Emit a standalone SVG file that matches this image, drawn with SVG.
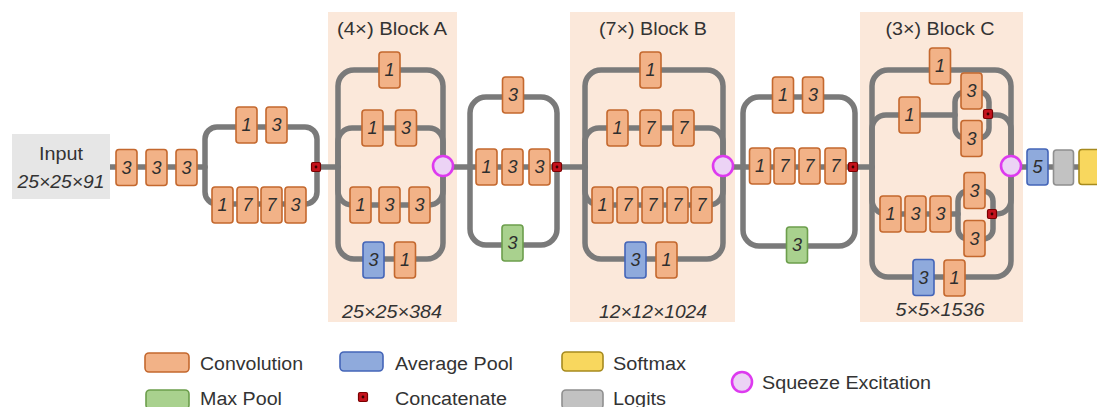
<svg xmlns="http://www.w3.org/2000/svg" width="1097" height="407" viewBox="0 0 1097 407">
  <style>
    .bg { fill: #fbe8da; }
    .wire { fill: none; stroke: #7a7a7a; stroke-width: 5.5; stroke-linecap: round; }
    .conv { fill: #f2b287; stroke: #c4682e; stroke-width: 1.6; }
    .mpool { fill: #a9d18e; stroke: #6c9e4c; stroke-width: 1.6; }
    .apool { fill: #8faadc; stroke: #4465b8; stroke-width: 1.6; }
    .soft { fill: #f8d75e; stroke: #a68a1e; stroke-width: 1.6; }
    .logit { fill: #c2c2c2; stroke: #8f8f8f; stroke-width: 1.6; }
    .cat { fill: #c4121c; stroke: #7a0000; stroke-width: 1.2; }
    .catdot { fill: #3a0000; }
    .se { fill: #ecd3f5; stroke: #dd3aef; stroke-width: 2.6; }
    .digit { font-family: "Liberation Sans", Arial, sans-serif; font-style: italic; font-size: 18px; fill: #2e2e2e; text-anchor: middle; }
    .lbl { font-family: "Liberation Sans", Arial, sans-serif; font-size: 18px; fill: #333; }
    .dim { font-family: "Liberation Sans", Arial, sans-serif; font-style: italic; font-size: 18px; fill: #333; text-anchor: middle; }
    .title { font-family: "Liberation Sans", Arial, sans-serif; font-size: 18px; fill: #333; text-anchor: middle; }
  </style>
  <defs>
    <rect id="box" x="-10.5" y="-18" width="21" height="36" rx="3"/>
    <g id="catmark">
      <rect class="cat" x="-4.5" y="-4.5" width="9" height="9" rx="1.5"/>
      <circle class="catdot" r="1.4"/>
    </g>
  </defs>

  <rect width="1097" height="407" fill="#ffffff"/>

  <!-- block backgrounds -->
  <g id="block-a-bg"><rect class="bg" x="328" y="12" width="129" height="310"/></g>
  <g id="block-b-bg"><rect class="bg" x="570" y="12" width="165" height="310"/></g>
  <g id="block-c-bg"><rect class="bg" x="860" y="12" width="163" height="310"/></g>

  <!-- connectors -->
  <g id="connectors">
    <path class="wire" d="M110,167 H205"/>
    <rect class="wire" x="205" y="127" width="112" height="77" rx="12"/>
    <path class="wire" d="M317,167 H338"/>
    <rect class="wire" x="338" y="70" width="105" height="189" rx="16"/>
    <rect class="wire" x="338" y="128" width="105" height="77" rx="14"/>
    <path class="wire" d="M443,167 H470"/>
    <rect class="wire" x="470" y="97" width="87" height="148" rx="16"/>
    <path class="wire" d="M470,167 H557"/>
    <path class="wire" d="M557,167 H585"/>
    <rect class="wire" x="585" y="70" width="138" height="189" rx="16"/>
    <rect class="wire" x="585" y="128" width="138" height="77" rx="14"/>
    <path class="wire" d="M723,167 H743"/>
    <rect class="wire" x="743" y="97" width="112" height="149" rx="16"/>
    <path class="wire" d="M743,167 H855"/>
    <path class="wire" d="M855,167 H872"/>
    <rect class="wire" x="872" y="70" width="139" height="207" rx="16"/>
    <path class="wire" d="M955,115 H886 A14,14 0 0 0 872,129 V200 A14,14 0 0 0 886,214 H958"/>
    <path class="wire" d="M988,115 H997 A14,14 0 0 1 1011,129 V200 A14,14 0 0 1 997,214 H992"/>
    <rect class="wire" x="955" y="92" width="34" height="46" rx="10"/>
    <rect class="wire" x="958" y="191" width="35" height="48" rx="10"/>
    <path class="wire" d="M1011,167 H1097"/>
  </g>

  <!-- input -->
  <g id="input">
    <rect x="12" y="134" width="98" height="65" fill="#e6e6e6"/>
    <text class="title" x="61" y="160" textLength="44" lengthAdjust="spacingAndGlyphs">Input</text>
    <text class="dim" x="61" y="188" textLength="87" lengthAdjust="spacingAndGlyphs">25×25×91</text>
  </g>

  <!-- stem -->
  <g id="stem-1" transform="translate(126.5,167.5)"><use href="#box" class="conv"/><text class="digit" y="6">3</text></g>
  <g id="stem-2" transform="translate(156.5,167.5)"><use href="#box" class="conv"/><text class="digit" y="6">3</text></g>
  <g id="stem-3" transform="translate(186.5,167.5)"><use href="#box" class="conv"/><text class="digit" y="6">3</text></g>
  <g id="stem-b1-1" transform="translate(246.5,125)"><use href="#box" class="conv"/><text class="digit" y="6">1</text></g>
  <g id="stem-b1-2" transform="translate(276.5,125)"><use href="#box" class="conv"/><text class="digit" y="6">3</text></g>
  <g id="stem-b2-1" transform="translate(222.5,205)"><use href="#box" class="conv"/><text class="digit" y="6">1</text></g>
  <g id="stem-b2-2" transform="translate(247.5,205)"><use href="#box" class="conv"/><text class="digit" y="6">7</text></g>
  <g id="stem-b2-3" transform="translate(271.5,205)"><use href="#box" class="conv"/><text class="digit" y="6">7</text></g>
  <g id="stem-b2-4" transform="translate(295.5,205)"><use href="#box" class="conv"/><text class="digit" y="6">3</text></g>
  <g id="stem-concat" transform="translate(316,167)"><use href="#catmark"/></g>

  <!-- block A -->
  <g id="block-a-title"><text class="title" x="392" y="35" textLength="110" lengthAdjust="spacingAndGlyphs">(4×) Block A</text></g>
  <g id="a-b1" transform="translate(389.5,70)"><use href="#box" class="conv"/><text class="digit" y="6">1</text></g>
  <g id="a-b2-1" transform="translate(372.5,128)"><use href="#box" class="conv"/><text class="digit" y="6">1</text></g>
  <g id="a-b2-2" transform="translate(406,128)"><use href="#box" class="conv"/><text class="digit" y="6">3</text></g>
  <g id="a-b3-1" transform="translate(360.5,205)"><use href="#box" class="conv"/><text class="digit" y="6">1</text></g>
  <g id="a-b3-2" transform="translate(389.5,205)"><use href="#box" class="conv"/><text class="digit" y="6">3</text></g>
  <g id="a-b3-3" transform="translate(419.5,205)"><use href="#box" class="conv"/><text class="digit" y="6">3</text></g>
  <g id="a-b4-1" transform="translate(373.5,260)"><use href="#box" class="apool"/><text class="digit" y="6">3</text></g>
  <g id="a-b4-2" transform="translate(405,260)"><use href="#box" class="conv"/><text class="digit" y="6">1</text></g>
  <g id="a-se"><circle class="se" cx="443" cy="166" r="10"/></g>
  <g id="block-a-dim"><text class="dim" x="392" y="318" textLength="100" lengthAdjust="spacingAndGlyphs">25×25×384</text></g>

  <!-- reduction A -->
  <g id="ra-b1" transform="translate(513,95)"><use href="#box" class="conv"/><text class="digit" y="6">3</text></g>
  <g id="ra-b2-1" transform="translate(486.5,167)"><use href="#box" class="conv"/><text class="digit" y="6">1</text></g>
  <g id="ra-b2-2" transform="translate(512.5,167)"><use href="#box" class="conv"/><text class="digit" y="6">3</text></g>
  <g id="ra-b2-3" transform="translate(539.5,167)"><use href="#box" class="conv"/><text class="digit" y="6">3</text></g>
  <g id="ra-b3" transform="translate(512.5,243)"><use href="#box" class="mpool"/><text class="digit" y="6">3</text></g>
  <g id="ra-concat" transform="translate(557,167)"><use href="#catmark"/></g>

  <!-- block B -->
  <g id="block-b-title"><text class="title" x="653" y="35" textLength="108" lengthAdjust="spacingAndGlyphs">(7×) Block B</text></g>
  <g id="b-b1" transform="translate(650.5,70)"><use href="#box" class="conv"/><text class="digit" y="6">1</text></g>
  <g id="b-b2-1" transform="translate(617.5,128)"><use href="#box" class="conv"/><text class="digit" y="6">1</text></g>
  <g id="b-b2-2" transform="translate(650.5,128)"><use href="#box" class="conv"/><text class="digit" y="6">7</text></g>
  <g id="b-b2-3" transform="translate(683.5,128)"><use href="#box" class="conv"/><text class="digit" y="6">7</text></g>
  <g id="b-b3-1" transform="translate(602.5,205)"><use href="#box" class="conv"/><text class="digit" y="6">1</text></g>
  <g id="b-b3-2" transform="translate(627.5,205)"><use href="#box" class="conv"/><text class="digit" y="6">7</text></g>
  <g id="b-b3-3" transform="translate(652.5,205)"><use href="#box" class="conv"/><text class="digit" y="6">7</text></g>
  <g id="b-b3-4" transform="translate(677.5,205)"><use href="#box" class="conv"/><text class="digit" y="6">7</text></g>
  <g id="b-b3-5" transform="translate(701.5,205)"><use href="#box" class="conv"/><text class="digit" y="6">7</text></g>
  <g id="b-b4-1" transform="translate(635.5,260)"><use href="#box" class="apool"/><text class="digit" y="6">3</text></g>
  <g id="b-b4-2" transform="translate(666.5,260)"><use href="#box" class="conv"/><text class="digit" y="6">1</text></g>
  <g id="b-se"><circle class="se" cx="723" cy="166" r="10"/></g>
  <g id="block-b-dim"><text class="dim" x="653" y="318" textLength="108" lengthAdjust="spacingAndGlyphs">12×12×1024</text></g>

  <!-- reduction B -->
  <g id="rb-b1-1" transform="translate(783,95)"><use href="#box" class="conv"/><text class="digit" y="6">1</text></g>
  <g id="rb-b1-2" transform="translate(813,95)"><use href="#box" class="conv"/><text class="digit" y="6">3</text></g>
  <g id="rb-b2-1" transform="translate(760,166)"><use href="#box" class="conv"/><text class="digit" y="6">1</text></g>
  <g id="rb-b2-2" transform="translate(784.5,166)"><use href="#box" class="conv"/><text class="digit" y="6">7</text></g>
  <g id="rb-b2-3" transform="translate(809.5,166)"><use href="#box" class="conv"/><text class="digit" y="6">7</text></g>
  <g id="rb-b2-4" transform="translate(835.5,166)"><use href="#box" class="conv"/><text class="digit" y="6">7</text></g>
  <g id="rb-b3" transform="translate(797,245)"><use href="#box" class="mpool"/><text class="digit" y="6">3</text></g>
  <g id="rb-concat" transform="translate(853,167)"><use href="#catmark"/></g>

  <!-- block C -->
  <g id="block-c-title"><text class="title" x="940" y="35" textLength="109" lengthAdjust="spacingAndGlyphs">(3×) Block C</text></g>
  <g id="c-b1" transform="translate(940,66)"><use href="#box" class="conv"/><text class="digit" y="6">1</text></g>
  <g id="c-b2-1" transform="translate(909.5,115)"><use href="#box" class="conv"/><text class="digit" y="6">1</text></g>
  <g id="c-b2-2a" transform="translate(971.5,91)"><use href="#box" class="conv"/><text class="digit" y="6">3</text></g>
  <g id="c-b2-2b" transform="translate(971.5,138.5)"><use href="#box" class="conv"/><text class="digit" y="6">3</text></g>
  <g id="c-b2-concat" transform="translate(988,114)"><use href="#catmark"/></g>
  <g id="c-b3-1" transform="translate(890.5,214)"><use href="#box" class="conv"/><text class="digit" y="6">1</text></g>
  <g id="c-b3-2" transform="translate(915.5,214)"><use href="#box" class="conv"/><text class="digit" y="6">3</text></g>
  <g id="c-b3-3" transform="translate(940.5,214)"><use href="#box" class="conv"/><text class="digit" y="6">3</text></g>
  <g id="c-b3-4a" transform="translate(974.5,190.5)"><use href="#box" class="conv"/><text class="digit" y="6">3</text></g>
  <g id="c-b3-4b" transform="translate(974.5,238.5)"><use href="#box" class="conv"/><text class="digit" y="6">3</text></g>
  <g id="c-b3-concat" transform="translate(992,214)"><use href="#catmark"/></g>
  <g id="c-b4-1" transform="translate(923.5,277.5)"><use href="#box" class="apool"/><text class="digit" y="6">3</text></g>
  <g id="c-b4-2" transform="translate(954.5,278)"><use href="#box" class="conv"/><text class="digit" y="6">1</text></g>
  <g id="c-se"><circle class="se" cx="1011" cy="166" r="10"/></g>
  <g id="block-c-dim"><text class="dim" x="940" y="316" textLength="89" lengthAdjust="spacingAndGlyphs">5×5×1536</text></g>

  <!-- head -->
  <g id="head-pool" transform="translate(1037.5,167)"><use href="#box" class="apool"/><text class="digit" y="6">5</text></g>
  <g id="head-logits"><rect class="logit" x="1053.5" y="150" width="20" height="35" rx="3"/></g>
  <g id="head-softmax"><rect class="soft" x="1079" y="149.5" width="24" height="35" rx="3"/></g>

  <!-- legend -->
  <g id="legend">
    <rect class="conv" x="145" y="353" width="44" height="19" rx="4"/>
    <text class="lbl" x="200" y="370" textLength="103" lengthAdjust="spacingAndGlyphs">Convolution</text>
    <rect class="mpool" x="146" y="390" width="43" height="19" rx="4"/>
    <text class="lbl" x="200" y="405" textLength="82" lengthAdjust="spacingAndGlyphs">Max Pool</text>
    <rect class="apool" x="340" y="352" width="43" height="19" rx="4"/>
    <text class="lbl" x="395" y="370" textLength="118" lengthAdjust="spacingAndGlyphs">Average Pool</text>
    <use href="#catmark" transform="translate(363,397)"/>
    <text class="lbl" x="395" y="405" textLength="112" lengthAdjust="spacingAndGlyphs">Concatenate</text>
    <rect class="soft" x="562" y="352" width="41" height="19" rx="4"/>
    <text class="lbl" x="613" y="370" textLength="73" lengthAdjust="spacingAndGlyphs">Softmax</text>
    <rect class="logit" x="562" y="390" width="41" height="19" rx="4"/>
    <text class="lbl" x="613" y="405" textLength="53" lengthAdjust="spacingAndGlyphs">Logits</text>
    <circle class="se" cx="742" cy="382" r="10"/>
    <text class="lbl" x="762" y="389" textLength="169" lengthAdjust="spacingAndGlyphs">Squeeze Excitation</text>
  </g>
</svg>
